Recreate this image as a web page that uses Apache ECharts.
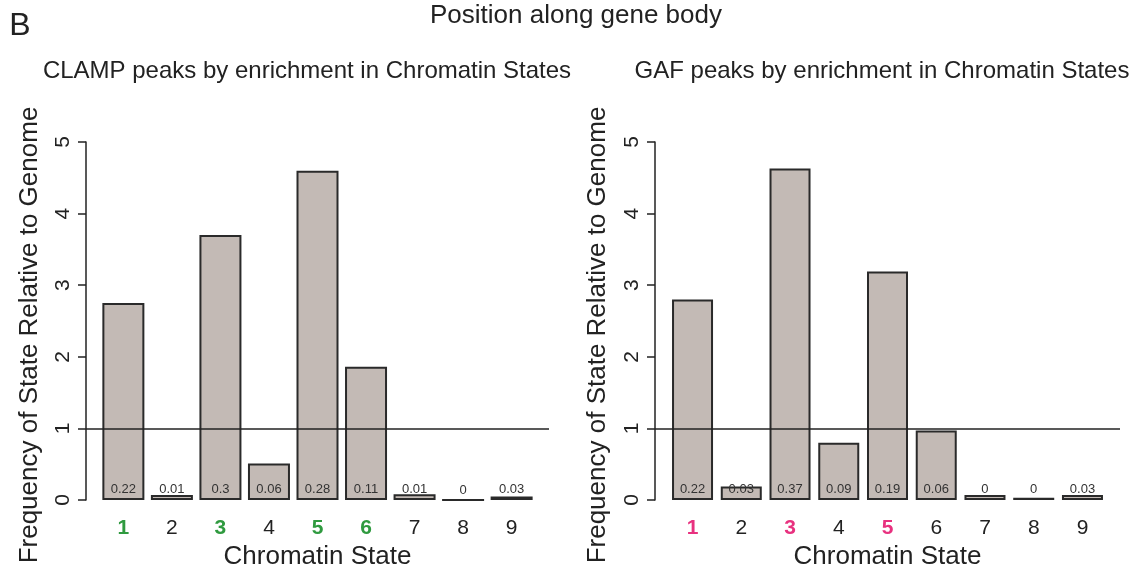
<!DOCTYPE html>
<html>
<head>
<meta charset="utf-8">
<script src="https://cdn.jsdelivr.net/npm/echarts@6/dist/echarts.min.js"></script>
<style>html,body{margin:0;padding:0;background:#fff}#c{width:1132px;height:575px}</style>
</head>
<body>
<div id="c"></div>
<script>
const states = [1, 2, 3, 4, 5, 6, 7, 8, 9];
const clampValues = [2.75, 0.07, 3.7, 0.51, 4.6, 1.86, 0.08, 0, 0.05];
const clampLabels = ['0.22', '0.01', '0.3', '0.06', '0.28', '0.11', '0.01', '0', '0.03'];
const clampHighlight = [1, 3, 5, 6];
const gafValues = [2.8, 0.19, 4.63, 0.8, 3.19, 0.97, 0.07, 0.03, 0.07];
const gafLabels = ['0.22', '0.03', '0.37', '0.09', '0.19', '0.06', '0', '0', '0.03'];
const gafHighlight = [1, 3, 5];
const yTicks = [0, 1, 2, 3, 4, 5];
const referenceLevel = 1;

const FONT = '"Liberation Sans", Arial, Helvetica, sans-serif';
const TXT = '#222';
const BAR = '#c3bab5';

function xAxisFor(gridIndex, highlight, hlColor) {
  return {
    type: 'value', gridIndex, min: 0.23, max: 9.77,
    splitLine: { show: false }, axisLine: { show: false }, axisTick: { show: false },
    axisLabel: {
      customValues: states, margin: 18, fontFamily: FONT, fontSize: 21, color: TXT,
      formatter: v => highlight.includes(v) ? '{h|' + v + '}' : String(v),
      rich: { h: { color: hlColor, fontWeight: 'bold', fontFamily: FONT, fontSize: 21 } }
    },
    name: 'Chromatin State', nameLocation: 'middle', nameGap: 44,
    nameTextStyle: { fontFamily: FONT, fontSize: 26, color: TXT }
  };
}
function yAxisFor(gridIndex) {
  return {
    type: 'value', gridIndex, min: 0, max: 5, interval: 1,
    splitLine: { show: false },
    axisLine: { show: true, lineStyle: { color: TXT, width: 1.5 } },
    axisTick: { show: true, length: 8, lineStyle: { color: TXT, width: 1.5 }, customValues: yTicks },
    axisLabel: { rotate: 90, margin: 12, fontFamily: FONT, fontSize: 21, color: TXT, customValues: yTicks }
  };
}
function barSeries(idx, values, labels, width) {
  return {
    type: 'bar', xAxisIndex: idx, yAxisIndex: idx, barWidth: width,
    data: values.map((v, i) => ({ value: [states[i], v], lbl: labels[i] })),
    itemStyle: { color: BAR, borderColor: '#2a2a2a', borderWidth: 2 },
    label: {
      show: true, position: 'insideBottom', distance: 4,
      fontFamily: FONT, fontSize: 13, color: '#333',
      formatter: p => labels[p.dataIndex]
    },
    markLine: {
      silent: true, symbol: 'none', label: { show: false },
      lineStyle: { type: 'solid', color: TXT, width: 1.5 },
      data: [{ yAxis: referenceLevel }]
    },
    animation: false
  };
}

const chart = echarts.init(document.getElementById('c'));
chart.setOption({
  animation: false,
  grid: [
    { left: 86, top: 142, width: 463, height: 358 },
    { left: 655, top: 142, width: 465, height: 358 }
  ],
  xAxis: [xAxisFor(0, clampHighlight, '#2f9a3f'), xAxisFor(1, gafHighlight, '#e8317f')],
  yAxis: [yAxisFor(0), yAxisFor(1)],
  series: [barSeries(0, clampValues, clampLabels, 42), barSeries(1, gafValues, gafLabels, 41)],
  graphic: [
    { type: 'text', style: { text: 'B', x: 20, y: 26, align: 'center', verticalAlign: 'middle', font: '32px ' + FONT, fill: TXT } },
    { type: 'text', style: { text: 'Position along gene body', x: 576, y: 16, align: 'center', verticalAlign: 'middle', font: '26px ' + FONT, fill: TXT } },
    { type: 'text', style: { text: 'CLAMP peaks by enrichment in Chromatin States', x: 307, y: 71, align: 'center', verticalAlign: 'middle', font: '24px ' + FONT, fill: TXT } },
    { type: 'text', style: { text: 'GAF peaks by enrichment in Chromatin States', x: 882, y: 71, align: 'center', verticalAlign: 'middle', font: '24px ' + FONT, fill: TXT } },
    { type: 'text', x: 30, y: 335, rotation: Math.PI / 2, style: { text: 'Frequency of State Relative to Genome', x: 0, y: 0, align: 'center', verticalAlign: 'middle', font: '26px ' + FONT, fill: TXT } },
    { type: 'text', x: 598, y: 335, rotation: Math.PI / 2, style: { text: 'Frequency of State Relative to Genome', x: 0, y: 0, align: 'center', verticalAlign: 'middle', font: '26px ' + FONT, fill: TXT } }
  ]
});
</script>
</body>
</html>
